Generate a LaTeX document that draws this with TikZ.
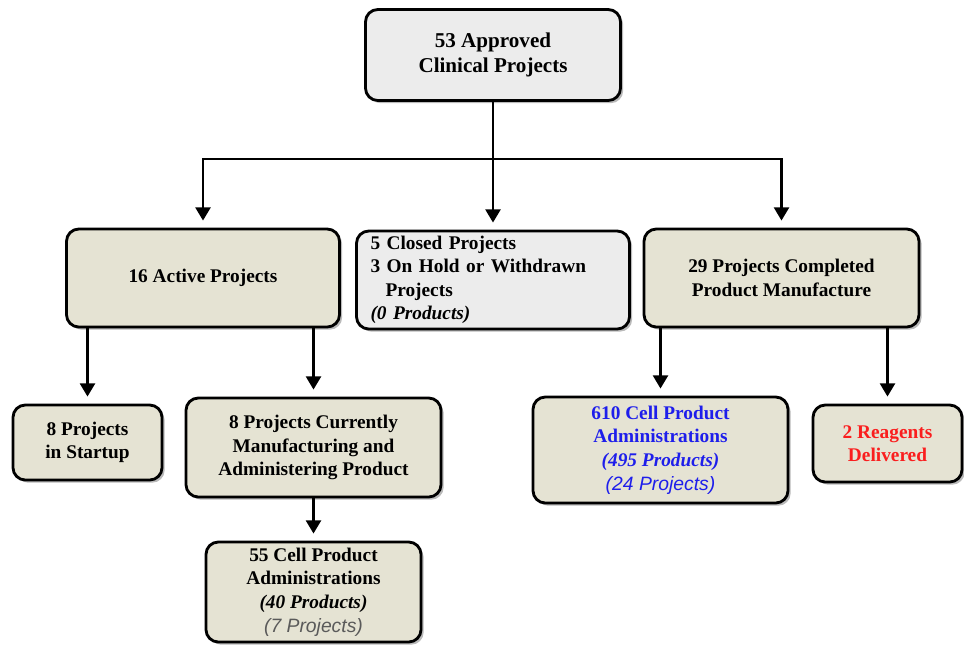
\documentclass[tikz,border=0pt]{standalone}
\usepackage{fontspec}
\setmainfont{Liberation Serif}
\newfontfamily\notefont{Liberation Sans}
\usetikzlibrary{arrows.meta,positioning,shadows}
\definecolor{boxtan}{RGB}{229,227,211}
\definecolor{boxgrey}{RGB}{236,236,236}
\definecolor{adminblue}{RGB}{30,30,235}
\definecolor{reagentred}{RGB}{250,30,30}
\definecolor{notegrey}{RGB}{90,90,90}
\newcommand{\projcount}[1]{{\notefont\mdseries\itshape #1}}

\begin{document}
\begin{tikzpicture}[>={Triangle[length=7.5pt,width=8.5pt]}, link/.style={draw=black, line width=1.4pt, shorten >=4pt}, border/.style={draw=black, line width=1.6pt, rounded corners=7pt}]
    % Define styles for the boxes
    \tikzstyle{block} = [rectangle, border, fill=boxtan, align=center, inner sep=0pt, font=\fontsize{11}{13.4}\selectfont\bfseries, drop shadow={shadow xshift=1.5pt, shadow yshift=-1.5pt, fill=black!45, opacity=0.6}]
    \tikzstyle{greyblock} = [block, fill=boxgrey]

    % Page size
    \fill[white] (0,0) rectangle (19.28,-12.92);
    \useasboundingbox (0,0) rectangle (19.28,-12.92);

    % Nodes placement
    \node[greyblock, minimum width=5.1cm, minimum height=1.82cm, font=\fontsize{12}{14.5}\selectfont\bfseries] (approved) at (9.86,-1.10) {53 Approved\\Clinical Projects};
    \node[block, minimum width=5.46cm, minimum height=1.96cm] (active) at (4.06,-5.56) {16 Active Projects};
    \node[greyblock, minimum width=5.46cm, minimum height=1.96cm, align=left, text width=4.9cm] (closed) at (9.86,-5.60) {5 Closed Projects\\3 On Hold or Withdrawn\\\hspace*{0.3cm}Projects\\\textit{(0 Products)}};
    \node[block, minimum width=5.5cm, minimum height=1.96cm] (completed) at (15.63,-5.56) {29 Projects Completed\\Product Manufacture};

    \node[block, minimum width=2.98cm, minimum height=1.5cm] (startup) at (1.75,-8.85) {8 Projects\\in Startup};
    \node[block, minimum width=5.1cm, minimum height=1.98cm] (manufacturing) at (6.27,-8.95) {8 Projects Currently\\Manufacturing and\\Administering Product};
    \node[block, minimum width=4.3cm, minimum height=2.0cm] (admin55) at (6.27,-11.84) {55 Cell Product\\Administrations\\\textit{(40 Products)}\\\textcolor{notegrey}{\projcount{(7 Projects)}}};

    \node[block, minimum width=5.1cm, minimum height=2.12cm, text=adminblue] (admin610) at (13.21,-9.0) {610 Cell Product\\Administrations\\\textit{(495 Products)}\\\projcount{(24 Projects)}};
    \node[block, minimum width=2.98cm, minimum height=1.54cm, text=reagentred] (reagents) at (17.75,-8.87) {2 Reagents\\Delivered};

    \coordinate[below=1.14cm of approved.south] (split);

    % Draw edges
    \draw[link, shorten >=0pt] (approved) -- (split);
    \draw[link,->] (split) -| (active);
    \draw[link,->] (split) -- (closed);
    \draw[link,->] (split) -| (completed);

    \draw[link,->] (active.south -| startup) -- (startup);
    \draw[link,->] (active.south -| manufacturing) -- (manufacturing);
    \draw[link,->] (manufacturing) -- (admin55);

    \draw[link,->] (completed.south -| admin610) -- (admin610);
    \draw[link,->] (completed.south -| reagents) -- (reagents);
\end{tikzpicture}
\end{document}
